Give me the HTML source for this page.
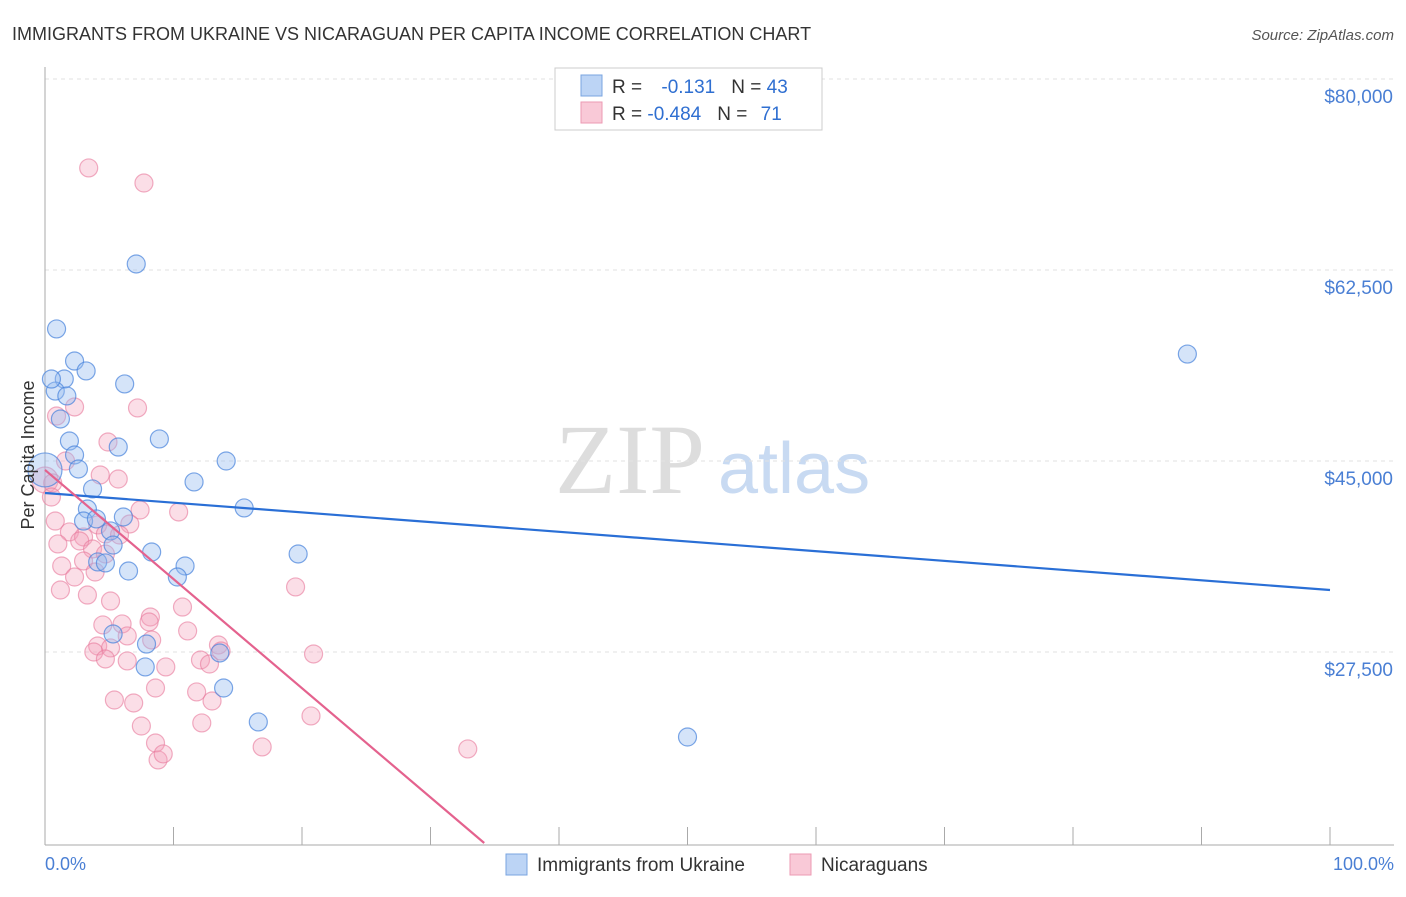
<!DOCTYPE html>
<html><head><meta charset="utf-8"><style>
body{margin:0;background:#fff;font-family:"Liberation Sans",sans-serif}
svg text{font-family:"Liberation Sans",sans-serif}
</style></head><body>
<svg width="1406" height="892">
<text x="12" y="40" font-size="18" fill="#333">IMMIGRANTS FROM UKRAINE VS NICARAGUAN PER CAPITA INCOME CORRELATION CHART</text>
<text x="1394" y="40" font-size="15" fill="#555" font-style="italic" text-anchor="end">Source: ZipAtlas.com</text>
<text x="555" y="493" font-size="100" fill="#ddd" font-family="Liberation Serif" style="font-family:'Liberation Serif',serif">ZIP</text>
<text x="718" y="493" font-size="72" fill="#c8daf2">atlas</text>
<g id="grid"></g><g id="axes"></g><g id="pts"></g><g id="lines"></g>
<text transform="translate(34,455) rotate(-90)" font-size="18" fill="#333" text-anchor="middle">Per Capita Income</text>
<text x="45" y="870" font-size="18" fill="#4a7fd4">0.0%</text>
<text x="1394" y="870" font-size="18" fill="#4a7fd4" text-anchor="end">100.0%</text>
<g>
<rect x="555" y="68" width="267" height="62" fill="#fff" stroke="#ccc"/>
<rect x="581" y="75" width="21" height="21" fill="#bcd4f5" stroke="#7aa4e0"/>
<rect x="581" y="102" width="21" height="21" fill="#f9c9d7" stroke="#ec9ab3"/>
<text x="612" y="93" font-size="19" fill="#333">R = <tspan fill="#2f6fd1" dx="14">-0.131</tspan><tspan dx="16" fill="#333">N = </tspan><tspan fill="#2f6fd1">43</tspan></text>
<text x="612" y="120" font-size="19" fill="#333">R = <tspan fill="#2f6fd1">-0.484</tspan><tspan dx="16" fill="#333">N = </tspan><tspan fill="#2f6fd1" dx="8">71</tspan></text>
</g>
<g>
<rect x="506" y="854" width="21" height="21" fill="#bcd4f5" stroke="#7aa4e0"/>
<text x="537" y="871" font-size="19" fill="#333">Immigrants from Ukraine</text>
<rect x="790" y="854" width="21" height="21" fill="#f9c9d7" stroke="#ec9ab3"/>
<text x="821" y="871" font-size="19" fill="#333">Nicaraguans</text>
</g>
</svg>
<script>
const yTicks=[80000,62500,45000,27500];
const yTickLabels=["$80,000","$62,500","$45,000","$27,500"];
const xTicks=[0,10,20,30,40,50,60,70,80,90,100];
const blueX=[0.9,2.3,3.2,1.5,6.2,0.8,1.7,1.2,1.9,5.7,8.9,2.3,14.1,2.6,3.7,11.6,15.5,3.3,3.0,4.0,6.1,5.1,8.3,19.7,5.3,4.1,4.7,6.5,10.9,10.3,5.3,7.9,13.6,7.8,13.9,16.6,7.1,88.9,50.0,0.5,0];
const blueY=[57100,54160,53250,52510,52060,51410,50960,48850,46830,46280,47020,45550,45000,44270,42440,43080,40700,40600,39500,39690,39870,38590,36660,36480,37300,35750,35660,34920,35380,34370,29150,28230,27410,26130,24200,21090,63050,54800,19710,52510,44180];
const blueR=[9,9,9,9,9,9,9,9,9,9,9,9,9,9,9,9,9,9,9,9,9,9,9,9,9,9,9,9,9,9,9,9,9,9,9,9,9,9,9,9,17];
const pinkX=[3.4,7.7,0.9,2.3,7.2,4.9,1.6,4.3,5.7,0,0.6,0.5,7.4,10.4,0.8,4.1,1.9,3.0,1.0,6.6,2.7,3.7,4.7,3.0,1.3,2.3,3.9,1.2,3.3,5.1,8.2,10.7,8.1,19.5,4.5,6.0,6.4,4.1,5.1,8.3,11.1,3.8,4.7,6.4,9.4,12.1,12.8,13.5,20.9,5.4,6.9,11.8,8.6,13.0,7.5,12.2,20.7,8.6,8.8,9.2,16.9,32.9,4.7,5.8,13.7];
const pinkY=[71850,70470,49120,49950,49860,46740,45000,43720,43350,43260,42990,41700,40510,40330,39500,39140,38500,38040,37400,39230,37670,36940,36480,35840,35380,34370,34830,33180,32720,32170,30710,31620,30250,33460,29980,30070,28970,28050,27870,28600,29430,27500,26860,26680,26130,26770,26400,28140,27320,23100,22830,23840,24200,23010,20720,21000,21640,19160,17610,18160,18800,18620,38310,38220,27590];
const blueTrend=[42070,33180];
const pinkTrend=[44180,-1000];
const X0=45,X1=1330,YT=79,YB=843,VMAX=80000,VMIN=10000;
const sx=p=>X0+(X1-X0)*p/100;
const sy=v=>YT+(VMAX-v)*(YB-YT)/(VMAX-VMIN);
const NS="http://www.w3.org/2000/svg";
function mk(tag,at,parent){const e=document.createElementNS(NS,tag);for(const k in at)e.setAttribute(k,at[k]);document.getElementById(parent).appendChild(e);return e;}
let t=mk('line',{x1:45,y1:sy(VMAX),x2:1394,y2:sy(VMAX),stroke:'#ddd','stroke-dasharray':'4,4'},'grid');


yTicks.forEach((v,i)=>{
 const g=mk('line',{x1:45,y1:sy(v),x2:1394,y2:sy(v),stroke:'#e2e2e2','stroke-dasharray':'4,4'},'grid');
 
 
 const l=mk('text',{x:1393,y:sy(v)+24,'font-size':19,fill:'#4a7fd4','text-anchor':'end'},'grid');
 l.textContent=yTickLabels[i];
 
 
});
let ax=mk('line',{x1:45,y1:67,x2:45,y2:YB+2,stroke:'#aaa'},'axes');


let bx=mk('line',{x1:45,y1:YB+2,x2:1394,y2:YB+2,stroke:'#aaa'},'axes');


xTicks.forEach(p=>{
 const k=mk('line',{x1:sx(p),y1:YB-16,x2:sx(p),y2:YB+2,stroke:'#aaa'},'axes');
 
 
});
pinkX.forEach((p,i)=>{
 const c=mk('circle',{cx:sx(p),cy:sy(pinkY[i]),r:i==9?13:9,fill:'rgba(244,160,185,0.35)',stroke:'rgba(232,120,155,0.6)','stroke-width':1.2},'pts');
 
 
});
blueX.forEach((p,i)=>{
 const c=mk('circle',{cx:sx(p),cy:sy(blueY[i]),r:blueR[i],fill:'rgba(150,188,240,0.4)',stroke:'rgba(70,130,220,0.7)','stroke-width':1.2},'pts');
 
 
});
let bl=mk('line',{x1:sx(0),y1:sy(blueTrend[0]),x2:sx(100),y2:sy(blueTrend[1]),stroke:'#2a6fd6','stroke-width':2.2},'lines');


const pEnd=(VMIN-pinkTrend[0])/pinkTrend[1];
let pl=mk('line',{x1:sx(0),y1:sy(pinkTrend[0]),x2:sx(pEnd),y2:sy(VMIN),stroke:'#e4628e','stroke-width':2.2},'lines');


</script>
</body></html>
